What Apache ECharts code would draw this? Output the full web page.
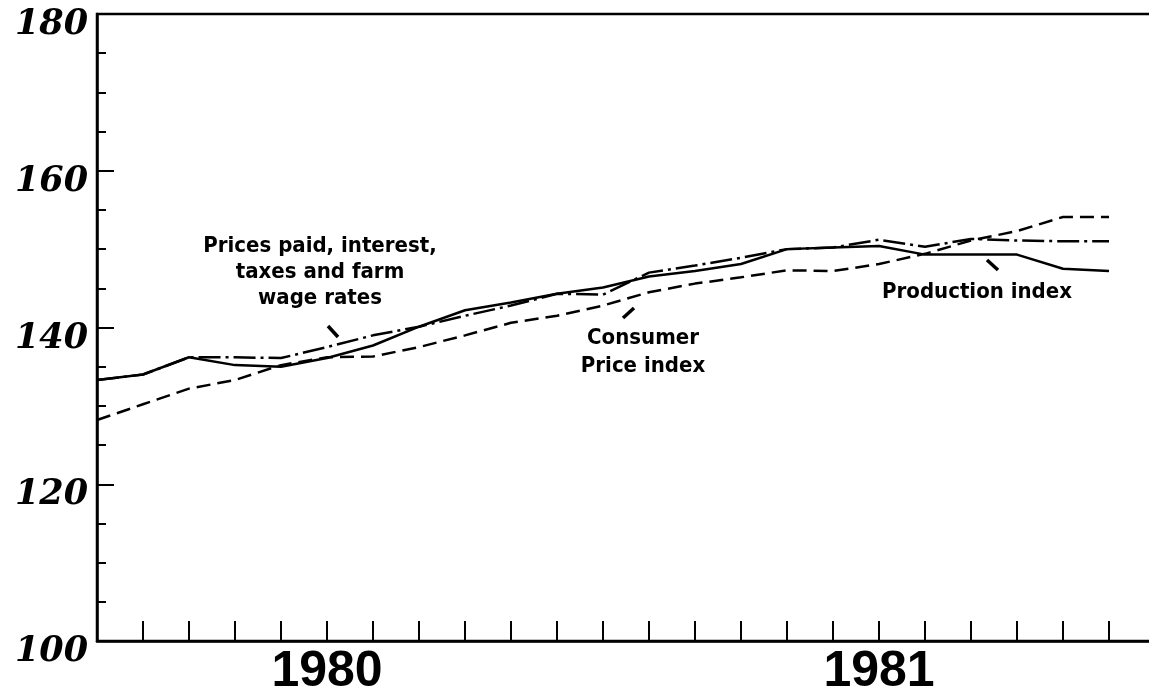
<!DOCTYPE html>
<html>
<head>
<meta charset="utf-8">
<script src="https://cdn.jsdelivr.net/npm/echarts@6/dist/echarts.min.js"></script>
<style>
  html, body { margin: 0; padding: 0; background: #fff; }
  #chart { width: 1149px; height: 688px; }
</style>
</head>
<body>
<div id="chart"></div>
<script>
// monthly categories, Jan 1980 .. Dec 1981
const months = [
  'Jan 1980', 'Feb 1980', 'Mar 1980', 'Apr 1980', 'May 1980', 'Jun 1980',
  'Jul 1980', 'Aug 1980', 'Sep 1980', 'Oct 1980', 'Nov 1980', 'Dec 1980',
  'Jan 1981', 'Feb 1981', 'Mar 1981', 'Apr 1981', 'May 1981', 'Jun 1981',
  'Jul 1981', 'Aug 1981', 'Sep 1981', 'Oct 1981', 'Nov 1981', 'Dec 1981'
]
// year labels shown under the axis
const yearLabels = { 5: '1980', 17: '1981' }

// Prices paid, interest, taxes and farm wage rates (dash-dot)
const pricesPaid = [133.3, 134.0, 136.2, 136.2, 136.1, 137.5, 139.0, 140.1, 141.5, 142.8, 144.3, 144.2,
  147.0, 147.9, 148.9, 150.0, 150.2, 151.2, 150.3, 151.3, 151.1, 151.0, 151.0]
// Consumer Price index (dashed)
const consumerPrice = [128.2, 130.2, 132.2, 133.3, 135.2, 136.2, 136.3, 137.5, 139.0, 140.6, 141.5, 142.8,
  144.5, 145.6, 146.4, 147.3, 147.2, 148.1, 149.4, 151.1, 152.3, 154.1, 154.1]
// Production index (solid)
const production = [133.3, 134.0, 136.2, 135.2, 135.0, 136.1, 137.7, 140.1, 142.2, 143.2, 144.3, 145.1,
  146.5, 147.2, 148.1, 150.0, 150.2, 150.4, 149.3, 149.3, 149.3, 147.5, 147.2]

const chart = echarts.init(document.getElementById('chart'))

const noteFont = "'Liberation Sans Narrow', 'DejaVu Sans Condensed', 'Liberation Sans', sans-serif"

const note = (text, x, y, lineHeight) => ({
  type: 'text',
  x: x,
  y: y,
  style: {
    text: text,
    fill: '#000',
    font: 'bold 22px ' + noteFont,
    align: 'center',
    verticalAlign: 'middle',
    lineHeight: lineHeight || 26
  }
})

const pointer = (x1, y1, x2, y2) => ({
  type: 'line',
  shape: { x1: x1, y1: y1, x2: x2, y2: y2 },
  style: { stroke: '#000', lineWidth: 3.5 }
})

const lineSeries = (name, data, type) => ({
  name: name,
  type: 'line',
  data: data,
  showSymbol: false,
  silent: true,
  lineStyle: { color: '#000', width: 2.5, type: type }
})

const option = {
  animation: false,
  backgroundColor: '#fff',
  grid: {
    left: 97,
    right: -6,
    top: 14,
    bottom: 47,
    show: true,
    borderColor: '#000',
    borderWidth: 2.5,
    outerBoundsMode: 'none'
  },
  xAxis: {
    type: 'category',
    boundaryGap: false,
    data: months,
    axisLine: { lineStyle: { color: '#000', width: 2.5 } },
    axisTick: { inside: true, interval: 0, length: 20, lineStyle: { color: '#000', width: 2 } },
    axisLabel: {
      interval: 0,
      formatter: (v, i) => yearLabels[i] || '',
      color: '#000',
      fontFamily: 'Liberation Sans',
      fontWeight: 'bold',
      fontSize: 50,
      margin: 6
    },
    splitLine: { show: false }
  },
  yAxis: {
    type: 'value',
    min: 100,
    max: 180,
    interval: 20,
    axisLine: { show: true, lineStyle: { color: '#000', width: 2.5 } },
    axisTick: { show: true, inside: true, length: 17, lineStyle: { color: '#000', width: 2 } },
    minorTick: { show: true, splitNumber: 4, length: 9, lineStyle: { color: '#000', width: 2 } },
    axisLabel: {
      color: '#000',
      fontFamily: 'DejaVu Serif',
      fontStyle: 'italic',
      fontWeight: 'bold',
      fontSize: 35,
      margin: 9,
      verticalAlign: 'top',
      lineHeight: 22
    },
    splitLine: { show: false }
  },
  series: [
    lineSeries('Production index', production, 'solid'),
    lineSeries('Prices paid, interest, taxes and farm wage rates', pricesPaid, [22, 5, 3, 5]),
    lineSeries('Consumer Price index', consumerPrice, [14, 7])
  ],
  graphic: [
    note('Prices paid, interest,\ntaxes and farm\nwage rates', 320, 272),
    pointer(328, 326, 338, 337),
    note('Consumer\nPrice index', 643, 352, 28),
    pointer(623, 318, 634, 308),
    note('Production index', 977, 292),
    pointer(987, 260, 998, 270)
  ]
}

chart.setOption(option)
window.addEventListener('resize', () => chart.resize())
</script>
</body>
</html>
